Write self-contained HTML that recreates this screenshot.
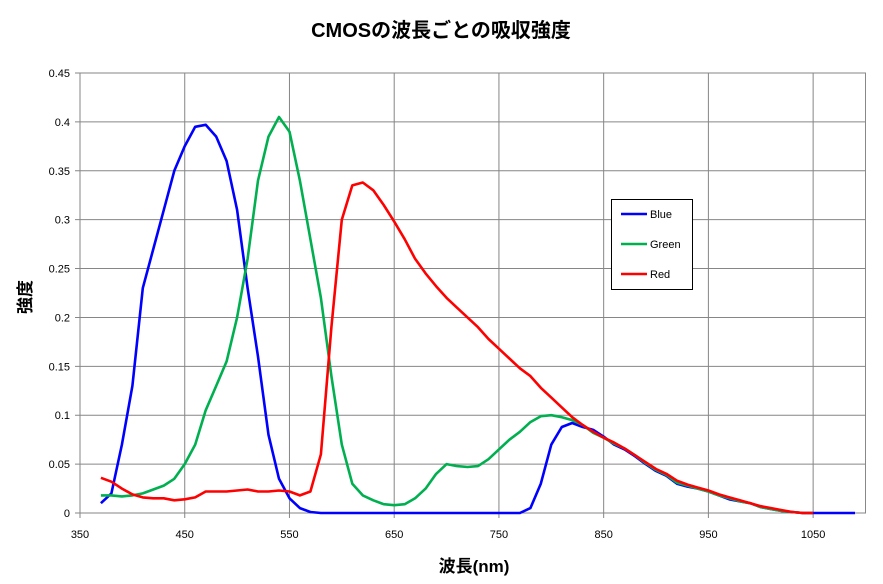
<!DOCTYPE html>
<html><head><meta charset="utf-8"><style>
body{margin:0;background:#fff;width:883px;height:579px;overflow:hidden;font-family:"Liberation Sans","Noto Sans CJK JP",sans-serif}
</style></head><body>
<svg id="c" width="883" height="579" xmlns="http://www.w3.org/2000/svg"></svg>
<script>
const xTicks=[350,450,550,650,750,850,950,1050];
const yTicks=[0,0.05,0.1,0.15,0.2,0.25,0.3,0.35,0.4,0.45];
const yTickLabels=["0","0.05","0.1","0.15","0.2","0.25","0.3","0.35","0.4","0.45"];
const wl=[370,380,390,400,410,420,430,440,450,460,470,480,490,500,510,520,530,540,550,560,570,580,590,600,610,620,630,640,650,660,670,680,690,700,710,720,730,740,750,760,770,780,790,800,810,820,830,840,850,860,870,880,890,900,910,920,930,940,950,960,970,980,990,1000,1010,1020,1030,1040,1050,1060,1070,1080,1090];
const blue=[0.01,0.02,0.07,0.13,0.23,0.27,0.31,0.35,0.375,0.395,0.397,0.385,0.36,0.31,0.23,0.16,0.08,0.035,0.015,0.005,0.001,0,0,0,0,0,0,0,0,0,0,0,0,0,0,0,0,0,0,0,0,0.005,0.03,0.07,0.088,0.092,0.088,0.085,0.078,0.07,0.065,0.058,0.05,0.043,0.038,0.03,0.027,0.025,0.022,0.018,0.014,0.012,0.01,0.006,0.004,0.002,0.001,0,0,0,0,0,0];
const green=[0.018,0.018,0.017,0.018,0.02,0.024,0.028,0.035,0.05,0.07,0.105,0.13,0.155,0.2,0.26,0.34,0.385,0.405,0.39,0.34,0.28,0.22,0.14,0.07,0.03,0.018,0.013,0.009,0.008,0.009,0.015,0.025,0.04,0.05,0.048,0.047,0.048,0.055,0.065,0.075,0.083,0.093,0.099,0.1,0.098,0.095,0.09,0.082,0.077,0.071,0.066,0.059,0.051,0.044,0.039,0.031,0.028,0.025,0.022,0.018,0.015,0.012,0.01,0.006,0.004,0.002,0.001,0,0,null,null,null,null];
const red=[0.036,0.032,0.025,0.019,0.016,0.015,0.015,0.013,0.014,0.016,0.022,0.022,0.022,0.023,0.024,0.022,0.022,0.023,0.022,0.018,0.022,0.06,0.19,0.3,0.335,0.338,0.33,0.315,0.298,0.28,0.26,0.245,0.232,0.22,0.21,0.2,0.19,0.178,0.168,0.158,0.148,0.14,0.128,0.118,0.108,0.098,0.09,0.083,0.077,0.072,0.066,0.059,0.052,0.045,0.04,0.033,0.029,0.026,0.023,0.019,0.016,0.013,0.01,0.007,0.005,0.003,0.001,0,0,null,null,null,null];
const L=80,R=865.5,T=73,B=513;
const X=v=>L+(v-350)/(1100-350)*(R-L);
const Y=v=>B-v/0.45*(B-T);
const svg=document.getElementById('c');
const NS="http://www.w3.org/2000/svg";
function mk(t,a,txt){const e=document.createElementNS(NS,t);for(const k in a)e.setAttribute(k,a[k]);if(txt!=null)e.textContent=txt;svg.appendChild(e);return e;}
let e;
e=mk('rect',{x:L,y:T,width:R-L,height:B-T,fill:'#fff',stroke:'#888'});


yTicks.forEach((v,i)=>{
 e=mk('line',{x1:L-5,x2:R,y1:Y(v),y2:Y(v),stroke:'#868686','stroke-width':1});
 
 
 e=mk('text',{x:L-10,y:Y(v)+4,'text-anchor':'end','font-size':11,fill:'#000'},yTickLabels[i]);
 
 
});
xTicks.forEach(v=>{
 e=mk('line',{x1:X(v),x2:X(v),y1:T,y2:B+5,stroke:'#868686','stroke-width':1});
 
 
 e=mk('text',{x:X(v),y:B+25,'text-anchor':'middle','font-size':11,fill:'#000'},String(v));
 
 
});
function series(arr,col,name){
 let d='';let started=false;
 arr.forEach((v,i)=>{if(v==null)return;d+=(started?'L':'M')+X(wl[i]).toFixed(1)+','+Y(v).toFixed(1);started=true;});
 e=mk('path',{d:d,fill:'none',stroke:col,'stroke-width':2.6,'stroke-linejoin':'round'});
 
 
}
series(blue,'#0000ff','blue-series');
series(green,'#00b050','green-series');
series(red,'#ff0000','red-series');
e=mk('text',{x:441,y:37,'text-anchor':'middle','font-size':20,'font-weight':'bold',fill:'#000'},'CMOSの波長ごとの吸収強度');


e=mk('text',{x:474,y:572,'text-anchor':'middle','font-size':17,'font-weight':'bold',fill:'#000'},'波長(nm)');


e=mk('text',{x:0,y:0,'text-anchor':'middle','font-size':17,'font-weight':'bold',fill:'#000',transform:'translate(31,297) rotate(-90)'},'強度');


e=mk('rect',{x:611.5,y:199.5,width:81,height:90,fill:'#fff',stroke:'#000'});


[['Blue','#0000ff',214],['Green','#00b050',244],['Red','#ff0000',274]].forEach(([n,c,y])=>{
 e=mk('line',{x1:621,x2:647,y1:y,y2:y,stroke:c,'stroke-width':2.6});
 
 
 e=mk('text',{x:650,y:y+4,'font-size':11,fill:'#000'},n);
 
 
});
</script>
</body></html>
